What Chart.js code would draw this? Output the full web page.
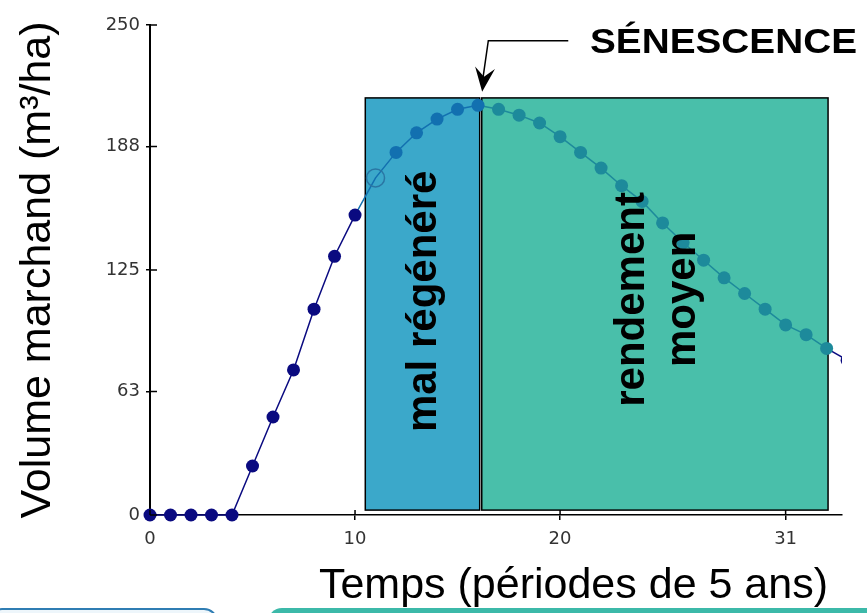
<!DOCTYPE html>
<html>
<head>
<meta charset="utf-8">
<script src="https://cdn.jsdelivr.net/npm/chart.js@4.4.0/dist/chart.umd.min.js"></script>
<style>
  html, body { margin: 0; padding: 0; background: #fff; overflow: hidden; }
  #wrap { position: relative; width: 867px; height: 613px; }
  #chart { position: absolute; left: 0; top: 0; }
  .tab-left { position: absolute; left: -12px; top: 608px; width: 226px; height: 30px; border: 2px solid #2f7db3; border-radius: 14px; background: #eef6fb; }
  .tab-right { position: absolute; left: 268px; top: 608px; width: 640px; height: 30px; background: #3cb9a9; border-radius: 14px; }
</style>
</head>
<body>
<div id="wrap">
  <div class="tab-left"></div>
  <div class="tab-right"></div>
  <canvas id="chart" width="867" height="613"></canvas>
</div>
<script>
// periods of 5 years and merchantable volume (m3/ha)
const periods = [0, 1, 2, 3, 4, 5, 6, 7, 8, 9, 10, 11, 12, 13, 14, 15, 16, 17,
                 18, 19, 20, 21, 22, 23, 24, 25, 26, 27, 28, 29, 30, 31, 32, 33, 34];
const volumes = [0, 0, 0, 0, 0, 25, 50, 74, 105, 132, 153, 172, 185, 195, 202, 207, 209, 207,
                 204, 200, 193, 185, 177, 168, 160, 149, 139, 130, 121, 113, 105, 97, 92, 85, 79];
const xTicks = [0, 10, 20, 31];
const yTicks = [0, 63, 125, 188, 250];
const openPeriod = 11;   // drawn as an empty ring

// shaded boxes, in axis units
const zones = [
  { lines: ['mal régénéré'], x0: 10.5, x1: 16.08, fill: '#3ba8ca', mark: '#1270b0', cx: 13.4, cy: 109 },
  { lines: ['rendement', 'moyen'], x0: 16.18, x1: 33.07, fill: '#49bfaa', mark: '#1d8a9b', cx: 24.76, cy: 110 }
];
const zoneTop = 212.8, zoneBottom = 2.5;
const navy = '#0a0a80';

function colorAt(v) {
  for (const z of zones) {
    if (v >= z.x0 && v <= z.x1) return z.mark;
  }
  return navy;
}

const points = periods.map((p, i) => ({ x: p, y: volumes[i] }));

const zonePlugin = {
  id: 'zones',
  beforeDatasetsDraw(chart) {
    const { ctx, scales: { x, y } } = chart;
    ctx.save();
    for (const z of zones) {
      const l = x.getPixelForValue(z.x0), r = x.getPixelForValue(z.x1);
      const t = y.getPixelForValue(zoneTop), b = y.getPixelForValue(zoneBottom);
      ctx.fillStyle = z.fill;
      ctx.fillRect(l, t, r - l, b - t);
      ctx.strokeStyle = '#000';
      ctx.lineWidth = 1.5;
      ctx.strokeRect(l, t, r - l, b - t);
    }
    ctx.restore();
  },
  afterDatasetsDraw(chart) {
    const { ctx, scales: { x, y } } = chart;
    ctx.save();
    // box labels
    ctx.fillStyle = '#000';
    ctx.font = 'bold 42px "Liberation Sans", Arial, sans-serif';
    ctx.textAlign = 'center';
    ctx.textBaseline = 'middle';
    for (const z of zones) {
      ctx.save();
      ctx.translate(x.getPixelForValue(z.cx), y.getPixelForValue(z.cy));
      ctx.rotate(-Math.PI / 2);
      z.lines.forEach((s, i) => ctx.fillText(s, 0, (i - (z.lines.length - 1) / 2) * 51));
      ctx.restore();
    }

    // arrow to the peak
    const tip = { x: x.getPixelForValue(16.2), y: y.getPixelForValue(216) };
    const corner = { x: x.getPixelForValue(16.5), y: y.getPixelForValue(242) };
    const start = { x: x.getPixelForValue(20.4), y: y.getPixelForValue(242) };
    ctx.strokeStyle = '#000';
    ctx.lineWidth = 1.5;
    ctx.beginPath();
    ctx.moveTo(start.x, start.y);
    ctx.lineTo(corner.x, corner.y);
    ctx.lineTo(tip.x, tip.y - 8);
    ctx.stroke();
    const dx = tip.x - corner.x, dy = tip.y - corner.y;
    const len = Math.hypot(dx, dy), ux = dx / len, uy = dy / len;
    const px = -uy, py = ux;
    ctx.beginPath();
    ctx.moveTo(tip.x, tip.y);
    ctx.lineTo(tip.x - ux * 24 + px * 10, tip.y - uy * 24 + py * 10);
    ctx.lineTo(tip.x - ux * 15, tip.y - uy * 15);
    ctx.lineTo(tip.x - ux * 24 - px * 10, tip.y - uy * 24 - py * 10);
    ctx.closePath();
    ctx.fill();

    // SÉNESCENCE
    const sx = x.getPixelForValue(21.46), sEnd = x.getPixelForValue(34.48);
    const sy = y.getPixelForValue(235.7);
    ctx.font = 'bold 35px "Liberation Sans", Arial, sans-serif';
    ctx.textAlign = 'left';
    ctx.textBaseline = 'alphabetic';
    const w = ctx.measureText('SÉNESCENCE').width;
    ctx.save();
    ctx.translate(sx, sy);
    ctx.scale((sEnd - sx) / w, 1);
    ctx.fillText('SÉNESCENCE', 0, 0);
    ctx.restore();
    ctx.restore();
  },
  afterDraw(chart) {
    const { ctx, chartArea, scales: { x, y } } = chart;
    ctx.save();
    // tick marks reaching inside the plot
    ctx.strokeStyle = '#000';
    ctx.lineWidth = 1.5;
    ctx.beginPath();
    for (const v of xTicks) {
      const p = x.getPixelForValue(v);
      ctx.moveTo(p, chartArea.bottom);
      ctx.lineTo(p, chartArea.bottom - 5);
    }
    for (const v of yTicks) {
      const p = y.getPixelForValue(v);
      ctx.moveTo(chartArea.left, p);
      ctx.lineTo(chartArea.left + 7, p);
    }
    ctx.stroke();
    // x axis title
    ctx.fillStyle = '#000';
    ctx.font = '43px "Liberation Sans", Arial, sans-serif';
    ctx.textAlign = 'right';
    ctx.textBaseline = 'alphabetic';
    ctx.fillText('Temps (périodes de 5 ans)', chartArea.right - 14, chart.height - 15);
    ctx.restore();
  }
};

const ctx = document.getElementById('chart').getContext('2d');
const chart = new Chart(ctx, {
  type: 'line',
  data: {
    datasets: [{
      data: points,
      borderColor: navy,
      borderWidth: 1.5,
      fill: false,
      tension: 0,
      clip: { left: 12, top: 12, right: 0, bottom: 12 },
      segment: {
        borderColor: s => colorAt((s.p0.parsed.x + s.p1.parsed.x) / 2)
      },
      pointRadius: c => (periods[c.dataIndex] === openPeriod ? 9 : 6.5),
      pointBackgroundColor: c => (periods[c.dataIndex] === openPeriod ? 'rgba(0,0,0,0)' : colorAt(periods[c.dataIndex])),
      pointBorderColor: c => (periods[c.dataIndex] === openPeriod ? '#2a76a3' : colorAt(periods[c.dataIndex])),
      pointBorderWidth: c => (periods[c.dataIndex] === openPeriod ? 1.5 : 0)
    }]
  },
  options: {
    responsive: false,
    animation: false,
    devicePixelRatio: 1,
    layout: { padding: { top: 25, right: 25, bottom: 0, left: 0 } },
    plugins: { legend: { display: false }, tooltip: { enabled: false } },
    scales: {
      x: {
        type: 'linear',
        min: 0,
        max: 33.75,
        afterBuildTicks: s => { s.ticks = xTicks.map(v => ({ value: v })); },
        afterFit: s => { s.height = 98; },
        grid: { drawOnChartArea: false, drawTicks: true, tickLength: 5, color: '#000', lineWidth: 1.5 },
        border: { display: true, color: '#000', width: 1.5 },
        ticks: { color: '#333', padding: 9, maxRotation: 0, font: { family: 'DejaVu Sans', size: 18 } }
      },
      y: {
        min: 0,
        max: 250,
        afterBuildTicks: s => { s.ticks = yTicks.map(v => ({ value: v })); },
        afterFit: s => { s.width = 150; },
        grid: { drawOnChartArea: false, drawTicks: true, tickLength: 4, color: '#000', lineWidth: 1.5 },
        border: { display: true, color: '#000', width: 2 },
        ticks: { color: '#333', padding: 6, font: { family: 'DejaVu Sans', size: 18 } },
        title: {
          display: true,
          text: 'Volume marchand (m³/ha)',
          color: '#000',
          font: { family: '"Liberation Sans", Arial, sans-serif', size: 43, lineHeight: 1 },
          padding: { top: 16.5, bottom: 0 }
        }
      }
    }
  },
  plugins: [zonePlugin]
});
</script>
</body>
</html>
